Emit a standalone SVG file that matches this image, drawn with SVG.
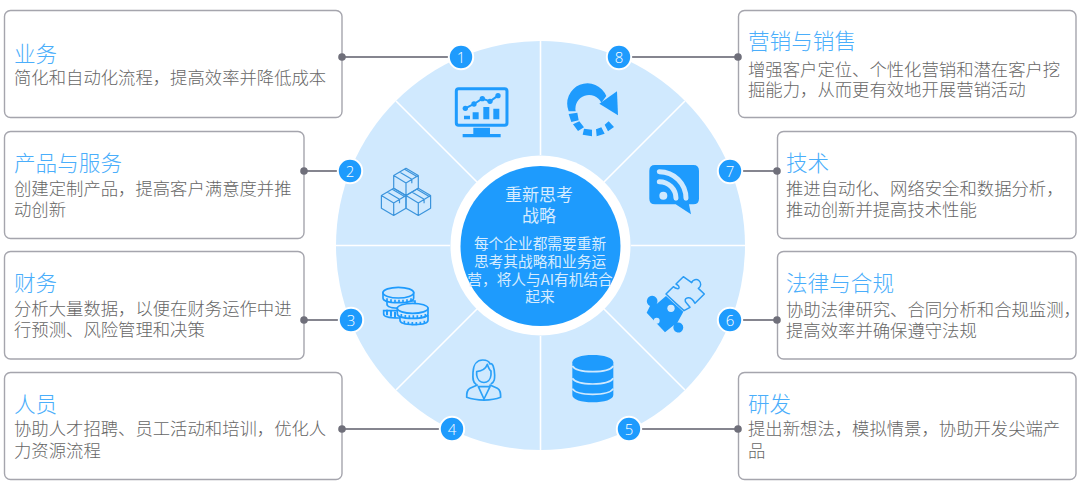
<svg xmlns="http://www.w3.org/2000/svg" width="1080" height="483" viewBox="0 0 1080 483">
<style>
text{font-family:"Noto Sans CJK SC","Liberation Sans",sans-serif}
.box{fill:#fff;stroke:#a5a5ad;stroke-width:1.4}
.t{font-size:21.6px;font-weight:300;fill:#4aaefb}
.b{font-size:17.35px;font-weight:300;fill:#666}
.n{font-family:"Open Sans","Liberation Sans",sans-serif;font-size:15px;font-weight:300;fill:#fff;text-anchor:middle}
.c{fill:#d6ecff;text-anchor:middle}
.l{stroke:#85858f;stroke-width:2.2;fill:none}
.d{fill:#6f6f7a}
.w{stroke:#fff;stroke-width:1.6;fill:none}
.badge{fill:#1e9bfd;stroke:#fff;stroke-width:2}
.i{fill:#1e9bfd}
.p{fill:none;stroke:#2ba1f8;stroke-width:5;stroke-linejoin:round;stroke-linecap:round}
</style>
<rect width="1080" height="483" fill="#fff"/>
<g id="wheel">
<circle cx="540.5" cy="245.5" r="204.5" fill="#d0e9fe"/>
<path class="w" d="M540.5 41V155M540.5 336V450M336 245.5H450M631 245.5H745M396 101L477 182M604 309L685 390M685 101L604 182M477 309L396 390"/>
</g>
<g id="connectors">
<path class="l" d="M342 57H461M304 171H350M304 320H351M342 429H452M738 429H629M777 320H730M777 171H730M738 57H619"/>
</g>
<g id="node-1"><rect class="box" x="4.5" y="10.5" width="337.5" height="107" rx="6"/><circle class="d" cx="342" cy="57" r="3.8"/><text class="t" x="14" y="62">业务</text><text class="b" x="14" y="84">简化和自动化流程，提高效率并降低成本</text></g>
<g id="node-2"><rect class="box" x="4.5" y="131.5" width="299.5" height="107" rx="6"/><circle class="d" cx="304" cy="171" r="3.8"/><text class="t" x="14" y="171">产品与服务</text><text class="b" x="14" y="195">创建定制产品，提高客户满意度并推</text><text class="b" x="14" y="216">动创新</text></g>
<g id="node-3"><rect class="box" x="4.5" y="251.5" width="299.5" height="107.5" rx="6"/><circle class="d" cx="304" cy="320" r="3.8"/><text class="t" x="14" y="291">财务</text><text class="b" x="14" y="315">分析大量数据，以便在财务运作中进</text><text class="b" x="14" y="336">行预测、风险管理和决策</text></g>
<g id="node-4"><rect class="box" x="4.5" y="372.5" width="337.5" height="107" rx="6"/><circle class="d" cx="342" cy="429" r="3.8"/><text class="t" x="14" y="412">人员</text><text class="b" x="14" y="435">协助人才招聘、员工活动和培训，优化人</text><text class="b" x="14" y="457">力资源流程</text></g>
<g id="node-5"><rect class="box" x="738.5" y="372.5" width="337.5" height="107" rx="6"/><circle class="d" cx="738" cy="429" r="3.8"/><text class="t" x="748" y="412">研发</text><text class="b" x="748" y="435">提出新想法，模拟情景，协助开发尖端产</text><text class="b" x="748" y="457">品</text></g>
<g id="node-6"><rect class="box" x="777.5" y="251.5" width="298.5" height="107.5" rx="6"/><circle class="d" cx="777" cy="320" r="3.8"/><text class="t" x="786" y="291">法律与合规</text><text class="b" x="786" y="316">协助法律研究、合同分析和合规监测，</text><text class="b" x="786" y="337">提高效率并确保遵守法规</text></g>
<g id="node-7"><rect class="box" x="777.5" y="131.5" width="298.5" height="107" rx="6"/><circle class="d" cx="777" cy="171" r="3.8"/><text class="t" x="786" y="171">技术</text><text class="b" x="786" y="195">推进自动化、网络安全和数据分析，</text><text class="b" x="786" y="216">推动创新并提高技术性能</text></g>
<g id="node-8"><rect class="box" x="738.5" y="10.5" width="337.5" height="107" rx="6"/><circle class="d" cx="738" cy="57" r="3.8"/><text class="t" x="748" y="49">营销与销售</text><text class="b" x="748" y="76">增强客户定位、个性化营销和潜在客户挖</text><text class="b" x="748" y="96">掘能力，从而更有效地开展营销活动</text></g>
<g id="centre">
<circle cx="540.5" cy="245.5" r="90" fill="#fff"/>
<circle cx="540.5" cy="246" r="80" fill="#1e9bfd"/>
<text class="c" x="539" y="201" font-size="17">重新思考</text>
<text class="c" x="539" y="221.500" font-size="17">战略</text>
<text class="c" x="540" y="249" font-size="14.700">每个企业都需要重新</text>
<text class="c" x="540" y="267" font-size="14.700">思考其战略和业务运</text>
<text class="c" x="540" y="285" font-size="14.700">营，将人与AI有机结合</text>
<text class="c" x="540" y="302" font-size="14.700">起来</text>
</g>
<g id="badge-1"><circle class="badge" cx="461" cy="57" r="12.200"/><text class="n" x="461" y="62.500">1</text></g>
<g id="badge-2"><circle class="badge" cx="350" cy="171" r="12.200"/><text class="n" x="350" y="176.500">2</text></g>
<g id="badge-3"><circle class="badge" cx="351" cy="320" r="12.200"/><text class="n" x="351" y="325.500">3</text></g>
<g id="badge-4"><circle class="badge" cx="452" cy="429" r="12.200"/><text class="n" x="452" y="434.500">4</text></g>
<g id="badge-5"><circle class="badge" cx="629" cy="429" r="12.200"/><text class="n" x="629" y="434.500">5</text></g>
<g id="badge-6"><circle class="badge" cx="730" cy="320" r="12.200"/><text class="n" x="730" y="325.500">6</text></g>
<g id="badge-7"><circle class="badge" cx="730" cy="171" r="12.200"/><text class="n" x="730" y="176.500">7</text></g>
<g id="badge-8"><circle class="badge" cx="619" cy="57" r="12.200"/><text class="n" x="619" y="62.500">8</text></g>
<g id="icon-monitor" transform="translate(340 30) scale(.3333)">
<rect x="349" y="176" width="152" height="110" rx="7" fill="none" stroke="#1e9bfd" stroke-width="9"/>
<path class="i" d="M400 293H450V312H482V322H368V312H400Z"/>
<path class="i" d="M372 257h18v11h-18zM398 247h18v21h-18zM430 231h18v37h-18zM460 236h18v32h-18z"/>
<path d="M376 235L402 222L427 206L450 214L474 197" fill="none" stroke="#1e9bfd" stroke-width="6"/>
<g class="i"><circle cx="376" cy="235" r="8"/><circle cx="402" cy="222" r="8"/><circle cx="427" cy="206" r="8"/><circle cx="450" cy="214" r="8"/><circle cx="474" cy="197" r="8"/></g>
</g>
<g id="icon-cubes" fill="none" stroke="#3b94dc" stroke-width="1.200" stroke-linejoin="round">
<path d="M406 168.300l12.300 7.300v12.600l-12.300 7.300l-12.300-7.300v-12.600zM393.700 175.600l12.300 7.300l12.300-7.300M406 182.900v12.600M399.500 172l12.300 7.300v4M405 169.500l12.300 7.300"/>
<path d="M393.700 188.300l12.300 7.300v12.600l-12.300 7.300l-12.300-7.300v-12.600zM381.400 195.600l12.300 7.300l12.300-7.300M393.700 202.900v12.600M387.200 192l12.300 7.300v4M392.700 189.500l12.300 7.300"/>
<path d="M418.300 188.300l12.300 7.300v12.600l-12.300 7.300l-12.300-7.300v-12.600zM406 195.600l12.300 7.300l12.300-7.300M418.300 202.900v12.600M411.800 192l12.300 7.300v4M417.300 189.500l12.300 7.300"/>
</g>
<g id="icon-coins" transform="translate(375 280) scale(.3333)" fill="#d0e9fe" stroke="#1e9bfd" stroke-width="5">
<path d="M26 92v10c0 8 20 12 44 12s44-4 44-12v-10z"/>
<path d="M36 63v10c0 8 18 12 42 12s42-4 42-12v-10z"/>
<path d="M36 89v17M48 93v17M60 95v18" stroke-width="6"/>
<path d="M24 38v16c0 9 20 14 46 14s46-5 46-14v-16z"/>
<ellipse cx="70" cy="38" rx="46" ry="16"/>
<path d="M36 55v10M48 58v10M60 59v10M72 59v10M84 59v10M96 58v10M108 55v10"/>
<path d="M75 107v14c0 9 18 13 42 13s42-4 42-13v-14z"/>
<path d="M67 85v16c0 9 20 14 46 14s46-5 46-14v-16z"/>
<ellipse cx="113" cy="85" rx="46" ry="15"/>
<path d="M79 102v10M91 105v10M103 106v10M115 106v10M127 106v10M139 105v10M151 102v10M88 122v10M100 125v10M112 126v10M124 126v10M136 125v10M148 122v10"/>
</g>
<g id="icon-person" transform="translate(460 355) scale(.3333)">
<path class="p" d="M48 88C38 82 38 70 39 52C40 28 52 15 68 15C80 15 88 20 90 27C98 22 103 38 104 60C104 72 104 80 94 86M50 50C68 48 78 40 82 28C85 38 88 45 93 48V60C90 90 54 90 50 60Z"/>
<path class="p" d="M52 90L30 100C20 105 20 115 20 127C50 138 95 138 122 127C122 115 122 105 112 100L90 90M55 95L72 132L90 95M55 95H90"/>
</g>
<g id="icon-database" transform="translate(540 240) scale(.3333)">
<path class="i" d="M97 367C97 353 125 345 158 345S220 353 220 367V465C220 479 192 487 158 487S97 479 97 465Z"/>
<path d="M97 378C105 390 130 395 158 395S212 390 220 378M97 415C105 427 130 432 158 432S212 427 220 415M97 446C105 458 130 463 158 463S212 458 220 446" fill="none" stroke="#d0e9fe" stroke-width="5"/>
</g>
<g id="icon-puzzle" transform="translate(640 270) scale(.3333)">
<path d="M78 72L100 50C118 64 124 50 108 42L130 20L155 38A14 14 0 1 1 175 55L193 72L165 100C150 72 125 85 140 100L150 112L132 122L108 100L78 72Z" fill="none" stroke="#2a9cf5" stroke-width="4.500" stroke-linejoin="round"/>
<path class="i" d="M50 102A16 16 0 1 0 30 108L20 128L75 187L102 165A15 15 0 1 0 112 158L130 125L78 78Z"/>
<circle cx="93" cy="115" r="11" fill="#d0e9fe"/>
<circle cx="50" cy="152" r="9" fill="#d0e9fe"/>
</g>
<g id="icon-refresh" transform="translate(562 82) scale(.3333)">
<path class="i" d="M20 88A61 61 0 0 1 133 42L118 62A41 41 0 0 0 41 88Z"/>
<path class="i" d="M165 28L168 100L112 65Z"/>
<path class="i" d="M20 96L46 92L50 115L28 120ZM33 127L52 118L66 136L48 147ZM66 140L90 143L90 163L62 158ZM102 142L118 136L128 155L104 163ZM128 128L140 118L156 135L138 148Z"/>
</g>
<g id="icon-rss" transform="translate(540 30) scale(.3333)">
<path class="i" d="M345 405H460Q477 405 477 422V506Q477 523 460 523H447L453 553L407 523H345Q328 523 328 506V422Q328 405 345 405Z"/>
<circle cx="370" cy="497" r="12" fill="#d0e9fe"/>
<path d="M358 455A50 50 0 0 1 408 505M358 425A80 80 0 0 1 438 505" fill="none" stroke="#d0e9fe" stroke-width="15" stroke-linecap="round"/>
</g>
</svg>
